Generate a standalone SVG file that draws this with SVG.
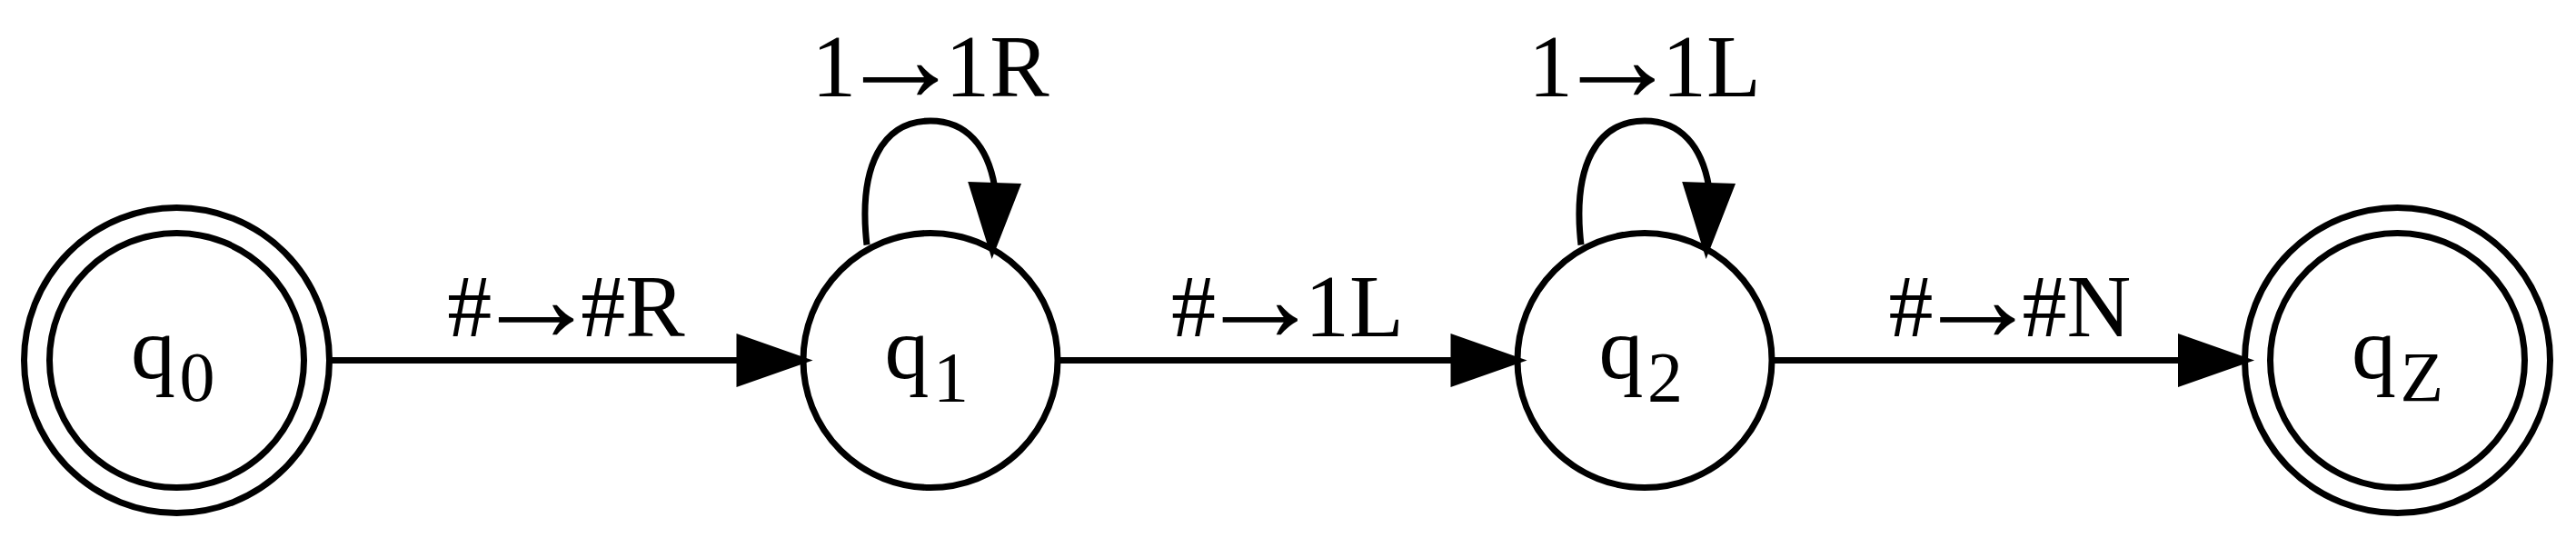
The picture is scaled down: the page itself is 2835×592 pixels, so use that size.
<svg xmlns="http://www.w3.org/2000/svg" width="2835" height="592" viewBox="0 0 2835 592">
<style>
.nd{fill:none;stroke:#000;stroke-width:7}
.ed{fill:none;stroke:#000;stroke-width:7}
.ah{fill:#000;stroke:#000;stroke-width:7}
.t{font-family:"Liberation Serif","Times New Roman",serif;font-size:98px;fill:#000}
.lbl{text-anchor:middle}
.sub{font-size:78px}
.ar{font-size:139px}
</style>
<rect x="0" y="0" width="2835" height="592" fill="#fff"/>
<g id="q0">
<circle class="nd" cx="194.5" cy="396.5" r="140"/>
<circle class="nd" cx="194.5" cy="396.5" r="168"/>
<text class="t" x="144" y="416">q<tspan class="sub" x="197.5" y="440.5">0</tspan></text>
</g>
<g id="q1">
<circle class="nd" cx="1024" cy="396.5" r="140"/>
<text class="t" x="973.5" y="416">q<tspan class="sub" x="1027" y="440.5">1</tspan></text>
</g>
<g id="q2">
<circle class="nd" cx="1810" cy="396.5" r="140"/>
<text class="t" x="1759.5" y="416">q<tspan class="sub" x="1813" y="440.5">2</tspan></text>
</g>
<g id="qZ">
<circle class="nd" cx="2638.5" cy="396.5" r="140"/>
<circle class="nd" cx="2638.5" cy="396.5" r="168"/>
<text class="t" x="2588" y="416">q<tspan class="sub" x="2641.5" y="440.5">Z</tspan></text>
</g>
<g id="edges">
<g id="e_q0_q1">
<path class="ed" d="M362.5,396.5 L814,396.5"/>
<polygon class="ah" points="884,396.5 814,372 814,421"/>
<text class="t lbl" x="623" y="370">#<tspan class="ar" dx="-20.5" dy="4.7">→</tspan><tspan dx="-20.5" dy="-4.7">#R</tspan></text>
</g>
<g id="e_q1_q1">
<path class="ed" d="M954,269.5 C944,181.5 972,133 1024,133 C1064,133 1087,161.5 1094.5,204.5"/>
<polygon class="ah" points="1092,274.5 1070,203.6 1119,205.4"/>
<text class="t lbl" x="1024" y="106">1<tspan class="ar" dx="-20.5" dy="4.7">→</tspan><tspan dx="-20.5" dy="-4.7">1R</tspan></text>
</g>
<g id="e_q1_q2">
<path class="ed" d="M1164,396.5 L1600,396.5"/>
<polygon class="ah" points="1670,396.5 1600,372 1600,421"/>
<text class="t lbl" x="1417" y="370">#<tspan class="ar" dx="-20.5" dy="4.7">→</tspan><tspan dx="-20.5" dy="-4.7">1L</tspan></text>
</g>
<g id="e_q2_q2">
<path class="ed" d="M1740,269.5 C1730,181.5 1758,133 1810,133 C1850,133 1873,161.5 1880.5,204.5"/>
<polygon class="ah" points="1878,274.5 1856,203.6 1905,205.4"/>
<text class="t lbl" x="1810" y="106">1<tspan class="ar" dx="-20.5" dy="4.7">→</tspan><tspan dx="-20.5" dy="-4.7">1L</tspan></text>
</g>
<g id="e_q2_qZ">
<path class="ed" d="M1950,396.5 L2400.5,396.5"/>
<polygon class="ah" points="2470.5,396.5 2400.5,372 2400.5,421"/>
<text class="t lbl" x="2212" y="370">#<tspan class="ar" dx="-20.5" dy="4.7">→</tspan><tspan dx="-20.5" dy="-4.7">#N</tspan></text>
</g>
</g>
</svg>
